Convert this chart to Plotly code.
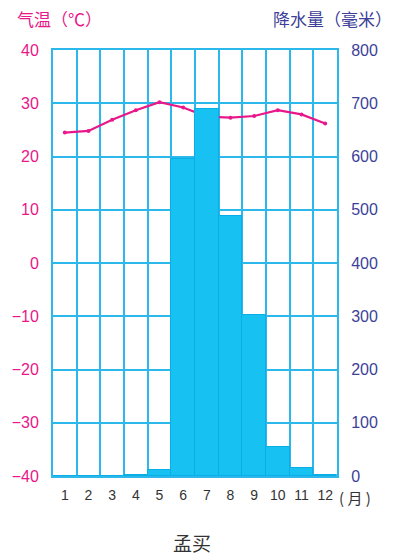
import plotly.graph_objects as go

# Monthly climate data for Mumbai
months = [1, 2, 3, 4, 5, 6, 7, 8, 9, 10, 11, 12]
month_labels = ["1", "2", "3", "4", "5", "6", "7", "8", "9", "10", "11", "12"]
temperature_c = [24.5, 24.8, 26.9, 28.7, 30.2, 29.2, 27.5, 27.3, 27.6, 28.7, 27.9, 26.2]
precip_mm = [0, 0, 0, 2, 12, 595, 690, 488, 302, 55, 15, 2]

temp_ticks = [-40, -30, -20, -10, 0, 10, 20, 30, 40]
temp_tick_text = ["\u221240", "\u221230", "\u221220", "\u221210", "0", "10", "20", "30", "40"]
precip_ticks = [0, 100, 200, 300, 400, 500, 600, 700, 800]

GRID = "#2DB8EC"
BAR = "#17C2F3"
BAR_EDGE = "#0AAEE6"
TEMP = "#E8178A"
RAIN_TXT = "#3D3F98"
FONT = "Liberation Sans, Arial, sans-serif"
CJK = "Noto Sans CJK SC"

fig = go.Figure()

fig.add_trace(go.Bar(
    x=months, y=precip_mm, yaxis="y2", width=1.0,
    marker=dict(color=BAR, line=dict(color=BAR_EDGE, width=1)),
    showlegend=False,
))

fig.add_trace(go.Scatter(
    x=months, y=temperature_c, yaxis="y", mode="lines+markers",
    line=dict(color=TEMP, width=2.2),
    marker=dict(color=TEMP, size=4),
    showlegend=False,
))

fig.update_layout(
    width=395, height=555,
    margin=dict(l=47, r=58, t=50, b=79),
    paper_bgcolor="white", plot_bgcolor="white",
    bargap=0,
    xaxis=dict(
        range=[0.5, 12.5], tickvals=months, ticktext=month_labels,
        showgrid=False, zeroline=False,
        minor=dict(tick0=0.5, dtick=1, showgrid=True, gridcolor=GRID, gridwidth=1.5),
        showline=True, linecolor=GRID, linewidth=2, mirror=True,
        ticks="", ticklabelstandoff=5,
        tickfont=dict(family=FONT, size=14, color="#333333"),
    ),
    yaxis=dict(
        range=[-40, 40], tickvals=temp_ticks, ticktext=temp_tick_text,
        showgrid=True, gridcolor=GRID, gridwidth=1.5, zeroline=False,
        showline=True, linecolor=GRID, linewidth=2,
        ticks="", ticklabelstandoff=9,
        tickfont=dict(family=FONT, size=16, color=TEMP),
    ),
    yaxis2=dict(
        range=[0, 800], tickvals=precip_ticks, overlaying="y", side="right",
        showgrid=False, zeroline=False,
        showline=True, linecolor=GRID, linewidth=2,
        ticks="", ticklabelstandoff=9,
        tickfont=dict(family=FONT, size=16, color=RAIN_TXT),
    ),
    annotations=[
        dict(text="气温（℃）", xref="paper", yref="paper", x=-0.135, y=1.04,
             xanchor="left", yanchor="bottom", showarrow=False,
             font=dict(family=CJK, size=17, color=TEMP)),
        dict(text="降水量（毫米）", xref="paper", yref="paper", x=1.2, y=1.04,
             xanchor="right", yanchor="bottom", showarrow=False,
             font=dict(family=CJK, size=17, color=RAIN_TXT)),
        dict(text="( 月 )", xref="paper", yref="paper", x=1.0, y=-0.022,
             xanchor="left", yanchor="top", showarrow=False,
             font=dict(family=CJK, size=15, color="#333333")),
        dict(text="孟买", xref="paper", yref="paper", x=0.49, y=-0.155,
             xanchor="center", yanchor="middle", showarrow=False,
             font=dict(family=CJK, size=19, color="#333333")),
    ],
)

fig.write_html("out.html")
